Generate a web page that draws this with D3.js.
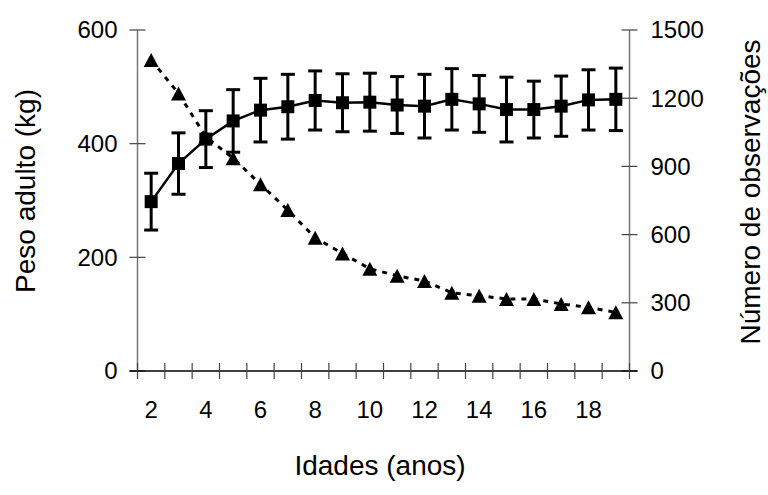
<!DOCTYPE html>
<html>
<head>
<meta charset="utf-8">
<script src="https://cdn.jsdelivr.net/npm/d3@7"></script>
<style>
  body { margin: 0; background: #fff; }
  text { font-family: "Liberation Sans", Arial, sans-serif; fill: #000; }
</style>
</head>
<body>
<div id="chart"></div>
<script>
var width = 768;
var height = 495;

// data
var ages = [2, 3, 4, 5, 6, 7, 8, 9, 10, 11, 12, 13, 14, 15, 16, 17, 18, 19];
var weight = [298, 365, 408, 440, 459, 465, 476, 472, 473, 468, 466, 478, 470, 460, 460, 466, 477, 478];
var weightErr = [50, 54, 50, 55, 56, 57, 52, 51, 51, 50, 56, 54, 50, 57, 50, 53, 53, 55];
var observations = [1368, 1221, 1030, 936, 821, 708, 586, 517, 450, 419, 396, 344, 331, 317, 317, 295, 280, 258];
var leftTicks = [0, 200, 400, 600];
var rightTicks = [0, 300, 600, 900, 1200, 1500];
var xLabelAges = [2, 4, 6, 8, 10, 12, 14, 16, 18];

var m = { left: 137.5, right: 629.5, top: 30, bottom: 371 };

var svg = d3.select("#chart").append("svg")
    .attr("width", width)
    .attr("height", height);

var x = d3.scaleBand()
    .domain(ages)
    .range([m.left, m.right])
    .padding(0);

var yL = d3.scaleLinear().domain([0, 600]).range([m.bottom, m.top]);
var yR = d3.scaleLinear().domain([0, 1500]).range([m.bottom, m.top]);

function cx(a) { return x(a) + x.bandwidth() / 2; }

// left axis
var gL = svg.append("g").attr("transform", "translate(" + m.left + ",0)");
gL.append("line").attr("y1", m.top).attr("y2", m.bottom)
    .attr("stroke", "#777").attr("stroke-width", 1.5);
gL.selectAll(".t").data(leftTicks).enter().append("line")
    .attr("x1", -8).attr("x2", 8)
    .attr("y1", function(d) { return yL(d); })
    .attr("y2", function(d) { return yL(d); })
    .attr("stroke", "#444").attr("stroke-width", 1.2);
gL.selectAll("text").data(leftTicks).enter().append("text")
    .attr("x", -20)
    .attr("y", function(d) { return yL(d); })
    .attr("dy", "0.35em")
    .attr("text-anchor", "end")
    .style("font-size", "24px")
    .text(function(d) { return d; });

// right axis
var gR = svg.append("g").attr("transform", "translate(" + m.right + ",0)");
gR.append("line").attr("y1", m.top).attr("y2", m.bottom)
    .attr("stroke", "#777").attr("stroke-width", 1.5);
gR.selectAll(".t").data(rightTicks).enter().append("line")
    .attr("x1", -8).attr("x2", 8)
    .attr("y1", function(d) { return yR(d); })
    .attr("y2", function(d) { return yR(d); })
    .attr("stroke", "#444").attr("stroke-width", 1.2);
gR.selectAll("text").data(rightTicks).enter().append("text")
    .attr("x", 21)
    .attr("y", function(d) { return yR(d); })
    .attr("dy", "0.35em")
    .attr("text-anchor", "start")
    .style("font-size", "24px")
    .text(function(d) { return d; });

// bottom axis
var gB = svg.append("g");
gB.append("line").attr("x1", m.left - 8).attr("x2", m.right + 8)
    .attr("y1", m.bottom).attr("y2", m.bottom)
    .attr("stroke", "#000").attr("stroke-width", 1.5);
var edges = ages.map(function(a) { return x(a); }).concat([m.right]);
gB.selectAll(".t").data(edges).enter().append("line")
    .attr("x1", function(d) { return d; })
    .attr("x2", function(d) { return d; })
    .attr("y1", m.bottom - 8).attr("y2", m.bottom + 8)
    .attr("stroke", "#444").attr("stroke-width", 1.2);
gB.selectAll("text").data(xLabelAges).enter().append("text")
    .attr("x", function(d) { return cx(d); })
    .attr("y", 410)
    .attr("dy", "0.35em")
    .attr("text-anchor", "middle")
    .style("font-size", "24px")
    .text(function(d) { return d; });

// axis titles
svg.append("text")
    .attr("transform", "translate(25,191) rotate(-90)")
    .attr("dy", "0.35em")
    .attr("text-anchor", "middle")
    .style("font-size", "28px")
    .text("Peso adulto (kg)");

svg.append("text")
    .attr("transform", "translate(750,192) rotate(-90)")
    .attr("dy", "0.35em")
    .attr("text-anchor", "middle")
    .style("font-size", "28px")
    .text("Número de observações");

svg.append("text")
    .attr("x", 380).attr("y", 465)
    .attr("dy", "0.35em")
    .attr("text-anchor", "middle")
    .style("font-size", "28px")
    .text("Idades (anos)");

// observations: dashed line + triangles
var lineR = d3.line()
    .x(function(d, i) { return cx(ages[i]); })
    .y(function(d) { return yR(d); });

svg.append("path")
    .datum(observations)
    .attr("d", lineR)
    .attr("fill", "none")
    .attr("stroke", "#000")
    .attr("stroke-width", 3)
    .attr("stroke-dasharray", "5,6");

// triangle marker centred on its bounding box
var triPath = "M0,-7L7.5,7L-7.5,7Z";
svg.selectAll(".tri").data(observations).enter().append("path")
    .attr("transform", function(d, i) { return "translate(" + cx(ages[i]) + "," + yR(d) + ")"; })
    .attr("d", triPath)
    .attr("fill", "#000");

// weight: error bars
var eb = svg.selectAll(".eb").data(weight).enter().append("g")
    .attr("stroke", "#000").attr("stroke-width", 3);
eb.append("line")
    .attr("x1", function(d, i) { return cx(ages[i]); })
    .attr("x2", function(d, i) { return cx(ages[i]); })
    .attr("y1", function(d, i) { return yL(d + weightErr[i]); })
    .attr("y2", function(d, i) { return yL(d - weightErr[i]); });
eb.append("line")
    .attr("x1", function(d, i) { return cx(ages[i]) - 7; })
    .attr("x2", function(d, i) { return cx(ages[i]) + 7; })
    .attr("y1", function(d, i) { return yL(d + weightErr[i]); })
    .attr("y2", function(d, i) { return yL(d + weightErr[i]); });
eb.append("line")
    .attr("x1", function(d, i) { return cx(ages[i]) - 7; })
    .attr("x2", function(d, i) { return cx(ages[i]) + 7; })
    .attr("y1", function(d, i) { return yL(d - weightErr[i]); })
    .attr("y2", function(d, i) { return yL(d - weightErr[i]); });

var lineL = d3.line()
    .x(function(d, i) { return cx(ages[i]); })
    .y(function(d) { return yL(d); });

svg.append("path")
    .datum(weight)
    .attr("d", lineL)
    .attr("fill", "none")
    .attr("stroke", "#000")
    .attr("stroke-width", 2.5);

svg.selectAll(".sq").data(weight).enter().append("rect")
    .attr("x", function(d, i) { return cx(ages[i]) - 6.5; })
    .attr("y", function(d) { return yL(d) - 6.5; })
    .attr("width", 13).attr("height", 13)
    .attr("fill", "#000");
</script>
</body>
</html>
